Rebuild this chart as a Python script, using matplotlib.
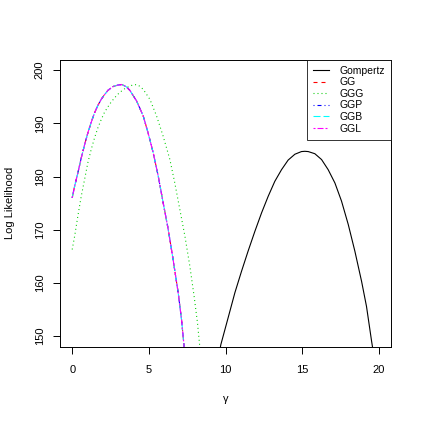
import matplotlib
matplotlib.use("Agg")
import matplotlib.pyplot as plt

# values
gompertz_gamma = [9.66, 9.69, 10.17, 10.61, 11.04, 11.47, 11.91, 12.35, 12.78,
                  13.21, 13.65, 14.08, 14.52, 14.95, 15.17, 15.39, 15.82,
                  16.26, 16.69, 17.13, 17.56, 18.0, 18.43, 18.87, 19.19,
                  19.52, 19.58, 19.6]
gompertz_ll = [147.9, 148.4, 153.5, 158.2, 162.2, 166.0, 169.7, 173.2, 176.3,
               179.1, 181.3, 183.1, 184.2, 184.7, 184.75, 184.7, 184.3,
               183.2, 181.3, 178.8, 175.4, 171.0, 166.0, 160.3, 155.6,
               149.1, 148.0, 147.6]

# GG, GGP, GGB and GGL lie on top of each other
gg_gamma = [0.0, 0.16, 0.37, 0.59, 0.81, 1.02, 1.24, 1.46, 1.68, 1.89, 2.11,
            2.33, 2.65, 2.98, 3.24, 3.52, 3.76, 4.2, 4.63, 4.95, 5.28, 5.61,
            5.93, 6.26, 6.58, 6.91, 7.13, 7.3, 7.33]
gg_ll = [176.0, 178.2, 180.7, 183.5, 186.0, 188.2, 190.2, 192.0, 193.4, 194.5,
         195.4, 196.2, 196.9, 197.2, 197.3, 196.9, 196.2, 194.2, 191.4, 188.2,
         184.5, 180.1, 175.1, 170.1, 164.4, 158.2, 153.1, 148.0, 147.4]

ggg_gamma = [0.0, 0.16, 0.37, 0.59, 0.81, 1.02, 1.24, 1.46, 1.68, 1.89, 2.11,
             2.44, 2.76, 3.09, 3.42, 3.74, 4.05, 4.3, 4.63, 5.07, 5.5, 5.93,
             6.37, 6.69, 7.02, 7.35, 7.67, 7.95, 8.17, 8.32, 8.34]
ggg_ll = [166.3, 168.8, 172.6, 176.3, 179.5, 182.6, 185.1, 187.3, 189.2, 190.7,
          192.1, 193.6, 194.8, 195.8, 196.5, 197.0, 197.3, 197.2, 196.4, 194.5,
          191.4, 187.6, 183.2, 178.8, 173.8, 168.8, 163.2, 157.5, 152.5, 148.0,
          147.5]

x_ticks = [0, 5, 10, 15, 20]
y_ticks = [150, 160, 170, 180, 190, 200]

plt.rcParams["font.family"] = ["Liberation Sans", "DejaVu Sans"]
plt.rcParams["font.size"] = 8

fig = plt.figure(figsize=(4.22, 4.22), dpi=100)
ax = fig.add_axes([0.142, 0.178, 0.785, 0.681])

lw = 0.8
series = [
    ("Gompertz", gompertz_gamma, gompertz_ll, "black", "-"),
    ("GG", gg_gamma, gg_ll, "red", (0, (3.6, 3.6))),
    ("GGG", ggg_gamma, ggg_ll, "#00CD00", (0, (0.9, 2.7))),
    ("GGP", gg_gamma, gg_ll, "blue", (0, (0.9, 2.7, 3.6, 2.7))),
    ("GGB", gg_gamma, gg_ll, "cyan", (0, (6.3, 2.7))),
    ("GGL", gg_gamma, gg_ll, "magenta", (0, (1.8, 1.8, 5.4, 1.8))),
]
for name, g, ll, col, ls in series:
    ax.plot(g, ll, color=col, linestyle=ls, linewidth=lw, label=name)

ax.set_xlim(-0.8, 20.8)
ax.set_ylim(148, 202)
ax.set_xticks(x_ticks)
ax.set_yticks(y_ticks)
ax.tick_params(direction="out", length=5, width=0.7, pad=8)
ax.tick_params(axis="y", pad=6)
for lab in ax.get_yticklabels():
    lab.set_rotation(90)
    lab.set_va("center")
for sp in ax.spines.values():
    sp.set_linewidth(0.7)

ax.set_xlabel("γ", labelpad=14)
ax.set_ylabel("Log Likelihood", labelpad=14)

leg = ax.legend(loc="upper right", fontsize=7.5, frameon=True, fancybox=False,
                edgecolor="black", borderpad=0.6, labelspacing=0.15,
                handlelength=1.5, handletextpad=1.0, borderaxespad=0)
leg.get_frame().set_linewidth(0.7)

fig.savefig("out.png", dpi=100)
